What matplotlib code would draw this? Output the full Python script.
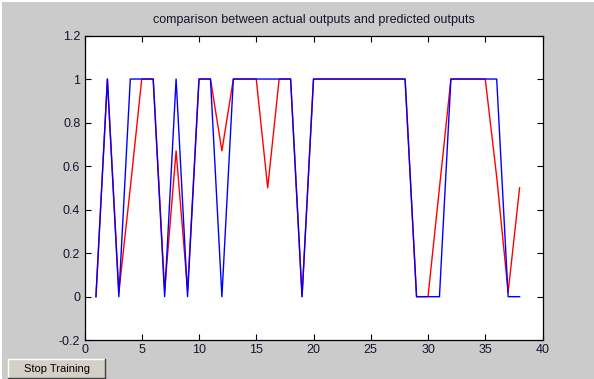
import numpy as np
import matplotlib.pyplot as plt
from matplotlib.patches import Rectangle

# sample index
x = list(range(1, 39))

# actual outputs (blue)
actual = [0, 1, 0, 1, 1, 1, 0, 1, 0, 1,
          1, 0, 1, 1, 1, 1, 1, 1, 0, 1,
          1, 1, 1, 1, 1, 1, 1, 1, 0, 0,
          0, 1, 1, 1, 1, 1, 0, 0]

# predicted outputs (red)
predicted = [0, 1, 0.02, 0.5, 1, 1, 0.03, 0.67, 0.03, 1,
             1, 0.67, 1, 1, 1, 0.5, 1, 1, 0, 1,
             1, 1, 1, 1, 1, 1, 1, 1, 0, 0,
             0.5, 1, 1, 1, 1, 0.55, 0.02, 0.5]

xticks = [0, 5, 10, 15, 20, 25, 30, 35, 40]
yticks = [-0.2, 0, 0.2, 0.4, 0.6, 0.8, 1, 1.2]
yticklabels = ['-0.2', '0', '0.2', '0.4', '0.6', '0.8', '1', '1.2']

W, H = 594, 379
gray = '#cbcbcb'
txt = '#14142e'
plt.rcParams['font.family'] = ['Liberation Sans', 'DejaVu Sans']

fig = plt.figure(figsize=(W / 100, H / 100), dpi=100, facecolor='white')
# grey window area (thin white strip at top and left)
fig.patches.append(Rectangle((2 / W, 0), 1, 1 - 2 / H, transform=fig.transFigure,
                             facecolor=gray, edgecolor='none', zorder=-1))

ax = fig.add_axes([84.5 / W, (H - 340.2) / H, 458 / W, 304.7 / H])
ax.plot(x, predicted, color='#ff0000', lw=1)
ax.plot(x, actual, color='#0000ff', lw=1)

ax.set_xlim(0, 40)
ax.set_ylim(-0.2, 1.2)
ax.set_xticks(xticks)
ax.set_yticks(yticks)
ax.set_yticklabels(yticklabels)
ax.tick_params(direction='in', top=True, right=True, length=4, width=0.8,
               labelsize=9, labelcolor=txt, pad=3)
for s in ax.spines.values():
    s.set_linewidth(0.9)
ax.set_title('comparison between actual outputs and predicted outputs',
             fontsize=9, color=txt, pad=9)

# "Stop Training" button
bx, by, bw, bh = 8, 359, 97, 19
fig.patches.append(Rectangle((bx / W, (H - by - bh) / H), bw / W, bh / H,
                             transform=fig.transFigure, facecolor='#d4d0c8',
                             edgecolor='none'))
fig.add_artist(plt.Line2D([bx / W, (bx + bw) / W], [(H - by) / H] * 2,
                          transform=fig.transFigure, color='white', lw=1))
fig.add_artist(plt.Line2D([bx / W] * 2, [(H - by) / H, (H - by - bh) / H],
                          transform=fig.transFigure, color='white', lw=1))
fig.add_artist(plt.Line2D([bx / W, (bx + bw) / W], [(H - by - bh) / H] * 2,
                          transform=fig.transFigure, color='#404040', lw=1))
fig.add_artist(plt.Line2D([(bx + bw) / W] * 2, [(H - by) / H, (H - by - bh) / H],
                          transform=fig.transFigure, color='#404040', lw=1))
fig.text((bx + bw / 2) / W, (H - by - bh / 2) / H, 'Stop Training',
         ha='center', va='center', fontsize=8, color='black')

fig.savefig('out.png', dpi=100, facecolor=fig.get_facecolor())
